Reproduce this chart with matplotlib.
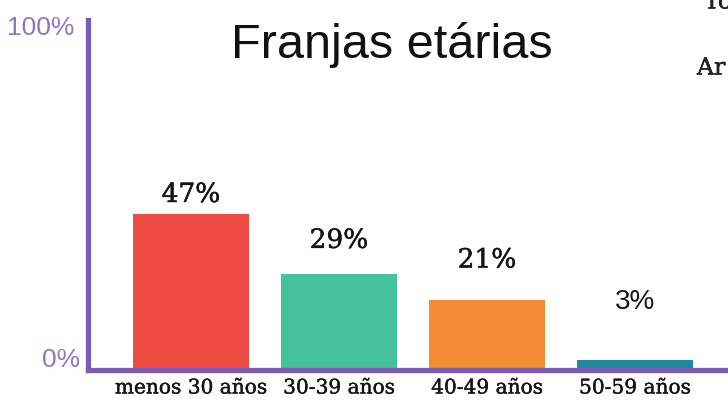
import matplotlib
matplotlib.use("Agg")
import matplotlib.pyplot as plt
import matplotlib.patheffects as pe

categories = ["menos 30 años", "30-39 años", "40-49 años", "50-59 años"]
values = [47, 29, 21, 3]
value_labels = ["47%", "29%", "21%", "3%"]
colors = ["#EE4C43", "#45C19B", "#F58B35", "#1F8A9F"]
label_fonts = ["DejaVu Serif", "DejaVu Serif", "DejaVu Serif", "Liberation Sans"]
label_offsets_pt = [14, 24, 29, 42]

purple = "#7B5CB5"
purple_light = "#8E77C2"

W, H = 728, 407
fig = plt.figure(figsize=(W / 100, H / 100), dpi=100)
fig.patch.set_facecolor("white")

ax_l, ax_r, ax_b, ax_t = 88, 728, 370, 20
ax = fig.add_axes([ax_l / W, 1 - ax_b / H, (ax_r - ax_l) / W, (ax_b - ax_t) / H])

x = list(range(len(categories)))
ax.bar(x, values, width=0.784, color=colors, zorder=2)
ax.set_xlim(-0.696, 3.628)
ax.set_ylim(0, 105.4)

heavy = [pe.withStroke(linewidth=0.35, foreground="#151515")]

for xi, v, lab, fnt, off in zip(x, values, value_labels, label_fonts, label_offsets_pt):
    serif = fnt != "Liberation Sans"
    ax.annotate(lab, (xi, v), xytext=(0, off), textcoords="offset points",
                ha="center", va="center", fontsize=19 if serif else 20,
                family=fnt, color="#151515",
                path_effects=heavy if serif else None)

tr = ax.get_xaxis_transform()
for xi, c in zip(x, categories):
    ax.text(xi, -18 / 350, c, transform=tr, ha="center", va="center",
            fontsize=14.5, family="DejaVu Serif", color="#151515", clip_on=False,
            path_effects=[pe.withStroke(linewidth=0.3, foreground="#151515")])

for s in ["top", "right"]:
    ax.spines[s].set_visible(False)
for s in ["left", "bottom"]:
    ax.spines[s].set_color(purple)
    ax.spines[s].set_linewidth(3.8)
    ax.spines[s].set_zorder(3)
ax.set_xticks([])
ax.set_yticks([])

fig.text(41 / W, 1 - 28 / H, "100%", ha="center", va="center", fontsize=19,
         family="Liberation Sans", color=purple_light)
fig.text(61 / W, 1 - 360 / H, "0%", ha="center", va="center", fontsize=19,
         family="Liberation Sans", color=purple_light)

fig.text(392 / W, 1 - 58 / H, "Franjas etárias", ha="center", va="baseline",
         fontsize=35, family="Liberation Sans", color="#111111")

fig.text(704 / W, 1 - 2 / H, "To", ha="left", va="center", fontsize=17,
         family="DejaVu Serif", color="#222222", path_effects=heavy)
fig.text(697 / W, 1 - 68 / H, "Ar", ha="left", va="center", fontsize=17,
         family="DejaVu Serif", color="#222222", path_effects=heavy)

fig.savefig("out.png", dpi=100, facecolor="white")
